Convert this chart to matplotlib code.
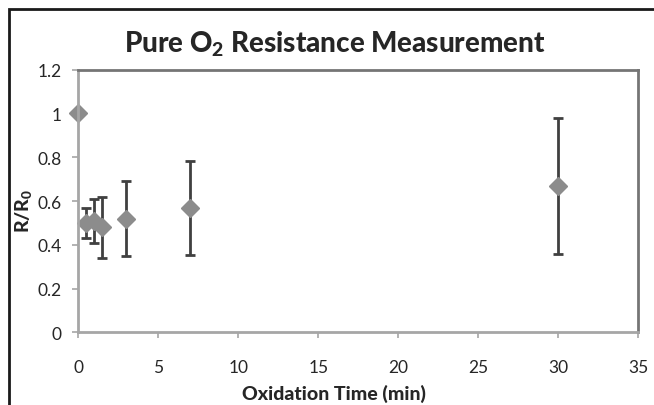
"""Resistance ratio vs. oxidation time in pure O2, with error bars."""

import matplotlib
matplotlib.use("Agg")
import matplotlib.pyplot as plt
from matplotlib.patches import Rectangle
from matplotlib.ticker import FuncFormatter, MultipleLocator


# Oxidation time (min), mean R/R0 and its +/- spread
oxidation_time = [0, 0.5, 1, 1.5, 3, 7, 30]
r_ratio = [1.0, 0.50, 0.51, 0.48, 0.52, 0.57, 0.667]
r_error = [0.0, 0.067, 0.10, 0.14, 0.17, 0.215, 0.31]

TITLE = r"Pure O$_\mathbf{2}$ Resistance Measurement"
XLABEL = "Oxidation Time (min)"
YLABEL = r"R/R$_\mathbf{0}$"

TEXT_COLOR = "#262626"
MARKER_COLOR = "#8c8c8c"
BAR_COLOR = "#404040"

plt.rcParams["font.family"] = ["Lato", "DejaVu Sans"]
plt.rcParams["mathtext.fontset"] = "custom"
plt.rcParams["mathtext.rm"] = "Lato"
plt.rcParams["mathtext.bf"] = "Lato:black"


def main():
    fig = plt.figure(figsize=(6.54, 4.06), dpi=100)
    ax = fig.add_axes([0.1197, 0.179, 0.8563, 0.6469])

    ax.errorbar(
        oxidation_time, r_ratio, yerr=r_error,
        fmt="D", markersize=9, color=MARKER_COLOR,
        ecolor=BAR_COLOR, elinewidth=2, capsize=3.8, capthick=2,
        clip_on=False,
    )

    ax.set_xlim(0, 35)
    ax.set_ylim(0, 1.2)
    ax.xaxis.set_major_locator(MultipleLocator(5))
    ax.yaxis.set_major_locator(MultipleLocator(0.2))
    ax.yaxis.set_major_formatter(FuncFormatter(lambda v, _: f"{v:g}"))

    # light axis lines on the left/bottom, darker plot-area border top/right
    for side in ("left", "bottom"):
        ax.spines[side].set_color("#a6a6a6")
        ax.spines[side].set_linewidth(2)
    for side in ("top", "right"):
        ax.spines[side].set_color("#757575")
        ax.spines[side].set_linewidth(2)

    ax.tick_params(axis="both", direction="out", length=4, width=1.2,
                   color="#a6a6a6", labelsize=12.5, labelcolor=TEXT_COLOR)
    ax.tick_params(axis="x", pad=15)
    ax.tick_params(axis="y", pad=8)

    fig.text(0.512, 0.872, TITLE, ha="center", va="baseline",
             fontsize=20, fontweight="black", color=TEXT_COLOR)
    fig.text(0.51, 0.015, XLABEL, ha="center", va="baseline",
             fontsize=14, fontweight="black", color=TEXT_COLOR)
    fig.text(0.037, 0.48, YLABEL, ha="center", va="center", rotation=90,
             fontsize=14, fontweight="black", color=TEXT_COLOR)

    # outer chart frame, cut off at the right and bottom edges
    fig.add_artist(Rectangle((9 / 654, -0.2), 1.2, 1.2 - 10 / 406,
                             transform=fig.transFigure, fill=False,
                             edgecolor="#1a1a1a", linewidth=2))

    fig.savefig("out.png", dpi=100)


if __name__ == "__main__":
    main()
